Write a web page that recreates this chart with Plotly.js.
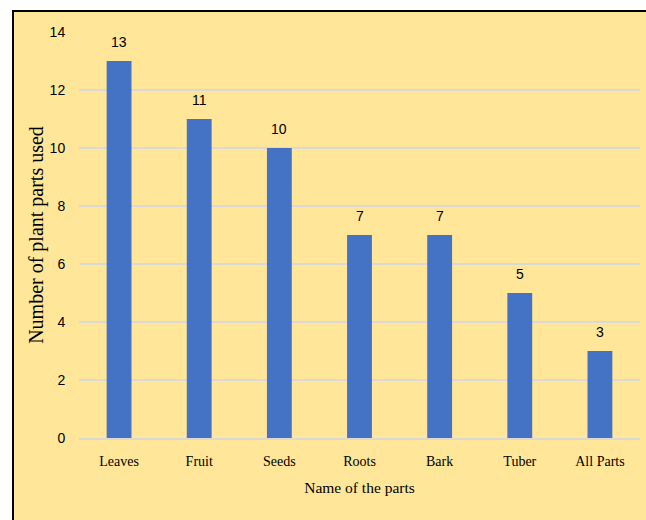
<!DOCTYPE html>
<html>
<head>
<meta charset="utf-8">
<script src="https://cdn.plot.ly/plotly-3.0.1.min.js"></script>
<style>
  html, body { margin:0; padding:0; background:#ffffff; }
  #wrap { position:relative; width:646px; height:520px; overflow:hidden; }
  #frame { position:absolute; left:12px; top:10px; width:700px; height:600px;
           border-left:2px solid #000; border-top:2px solid #000; background:#FFE699; }
  #chart { position:absolute; left:0; top:0; width:646px; height:520px; }
</style>
</head>
<body>
<div id="wrap">
  <div id="frame"></div>
  <div id="chart"></div>
</div>
<script>
const categories = ["Leaves", "Fruit", "Seeds", "Roots", "Bark", "Tuber", "All Parts"];
const values = [13, 11, 10, 7, 7, 5, 3];
const yTicks = [0, 2, 4, 6, 8, 10, 12, 14];

const numFont = 'Liberation Sans Narrow, Liberation Sans, Arial, sans-serif';

const trace = {
  type: 'bar',
  x: categories,
  y: values,
  marker: { color: '#4472C4' },
  width: 0.31,
  hoverinfo: 'x+y'
};

const annotations = categories.map((c, i) => ({
  x: c, y: values[i], xref: 'x', yref: 'y',
  text: String(values[i]), showarrow: false,
  yanchor: 'bottom', yshift: 9,
  font: { family: numFont, size: 14, color: '#000' }
}));

const layout = {
  width: 646, height: 520,
  margin: { l: 79, r: 6, t: 32, b: 82 },
  paper_bgcolor: 'rgba(0,0,0,0)',
  plot_bgcolor: 'rgba(0,0,0,0)',
  showlegend: false,
  bargap: 0.69,
  xaxis: {
    type: 'category',
    showgrid: false,
    showline: true, linecolor: '#D9D9D9', linewidth: 1.5,
    ticks: 'outside', ticklen: 10, tickcolor: 'rgba(0,0,0,0)',
    tickfont: { family: 'Liberation Serif, Times New Roman, serif', size: 14, color: '#000' },
    title: { text: 'Name of the parts', standoff: 14,
             font: { family: 'Liberation Serif, Times New Roman, serif', size: 15.5, color: '#000' } }
  },
  yaxis: {
    range: [0, 14],
    tickvals: yTicks,
    showgrid: true, gridcolor: '#D9D9D9', gridwidth: 1.5,
    zeroline: false,
    showline: false,
    ticks: 'outside', ticklen: 10, tickcolor: 'rgba(0,0,0,0)',
    tickfont: { family: numFont, size: 14, color: '#000' },
    title: { text: 'Number of plant parts used', standoff: 0,
             font: { family: 'Liberation Serif, Times New Roman, serif', size: 20, color: '#000' } }
  },
  annotations: annotations
};

Plotly.newPlot('chart', [trace], layout, { displayModeBar: false, staticPlot: true });
</script>
</body>
</html>
